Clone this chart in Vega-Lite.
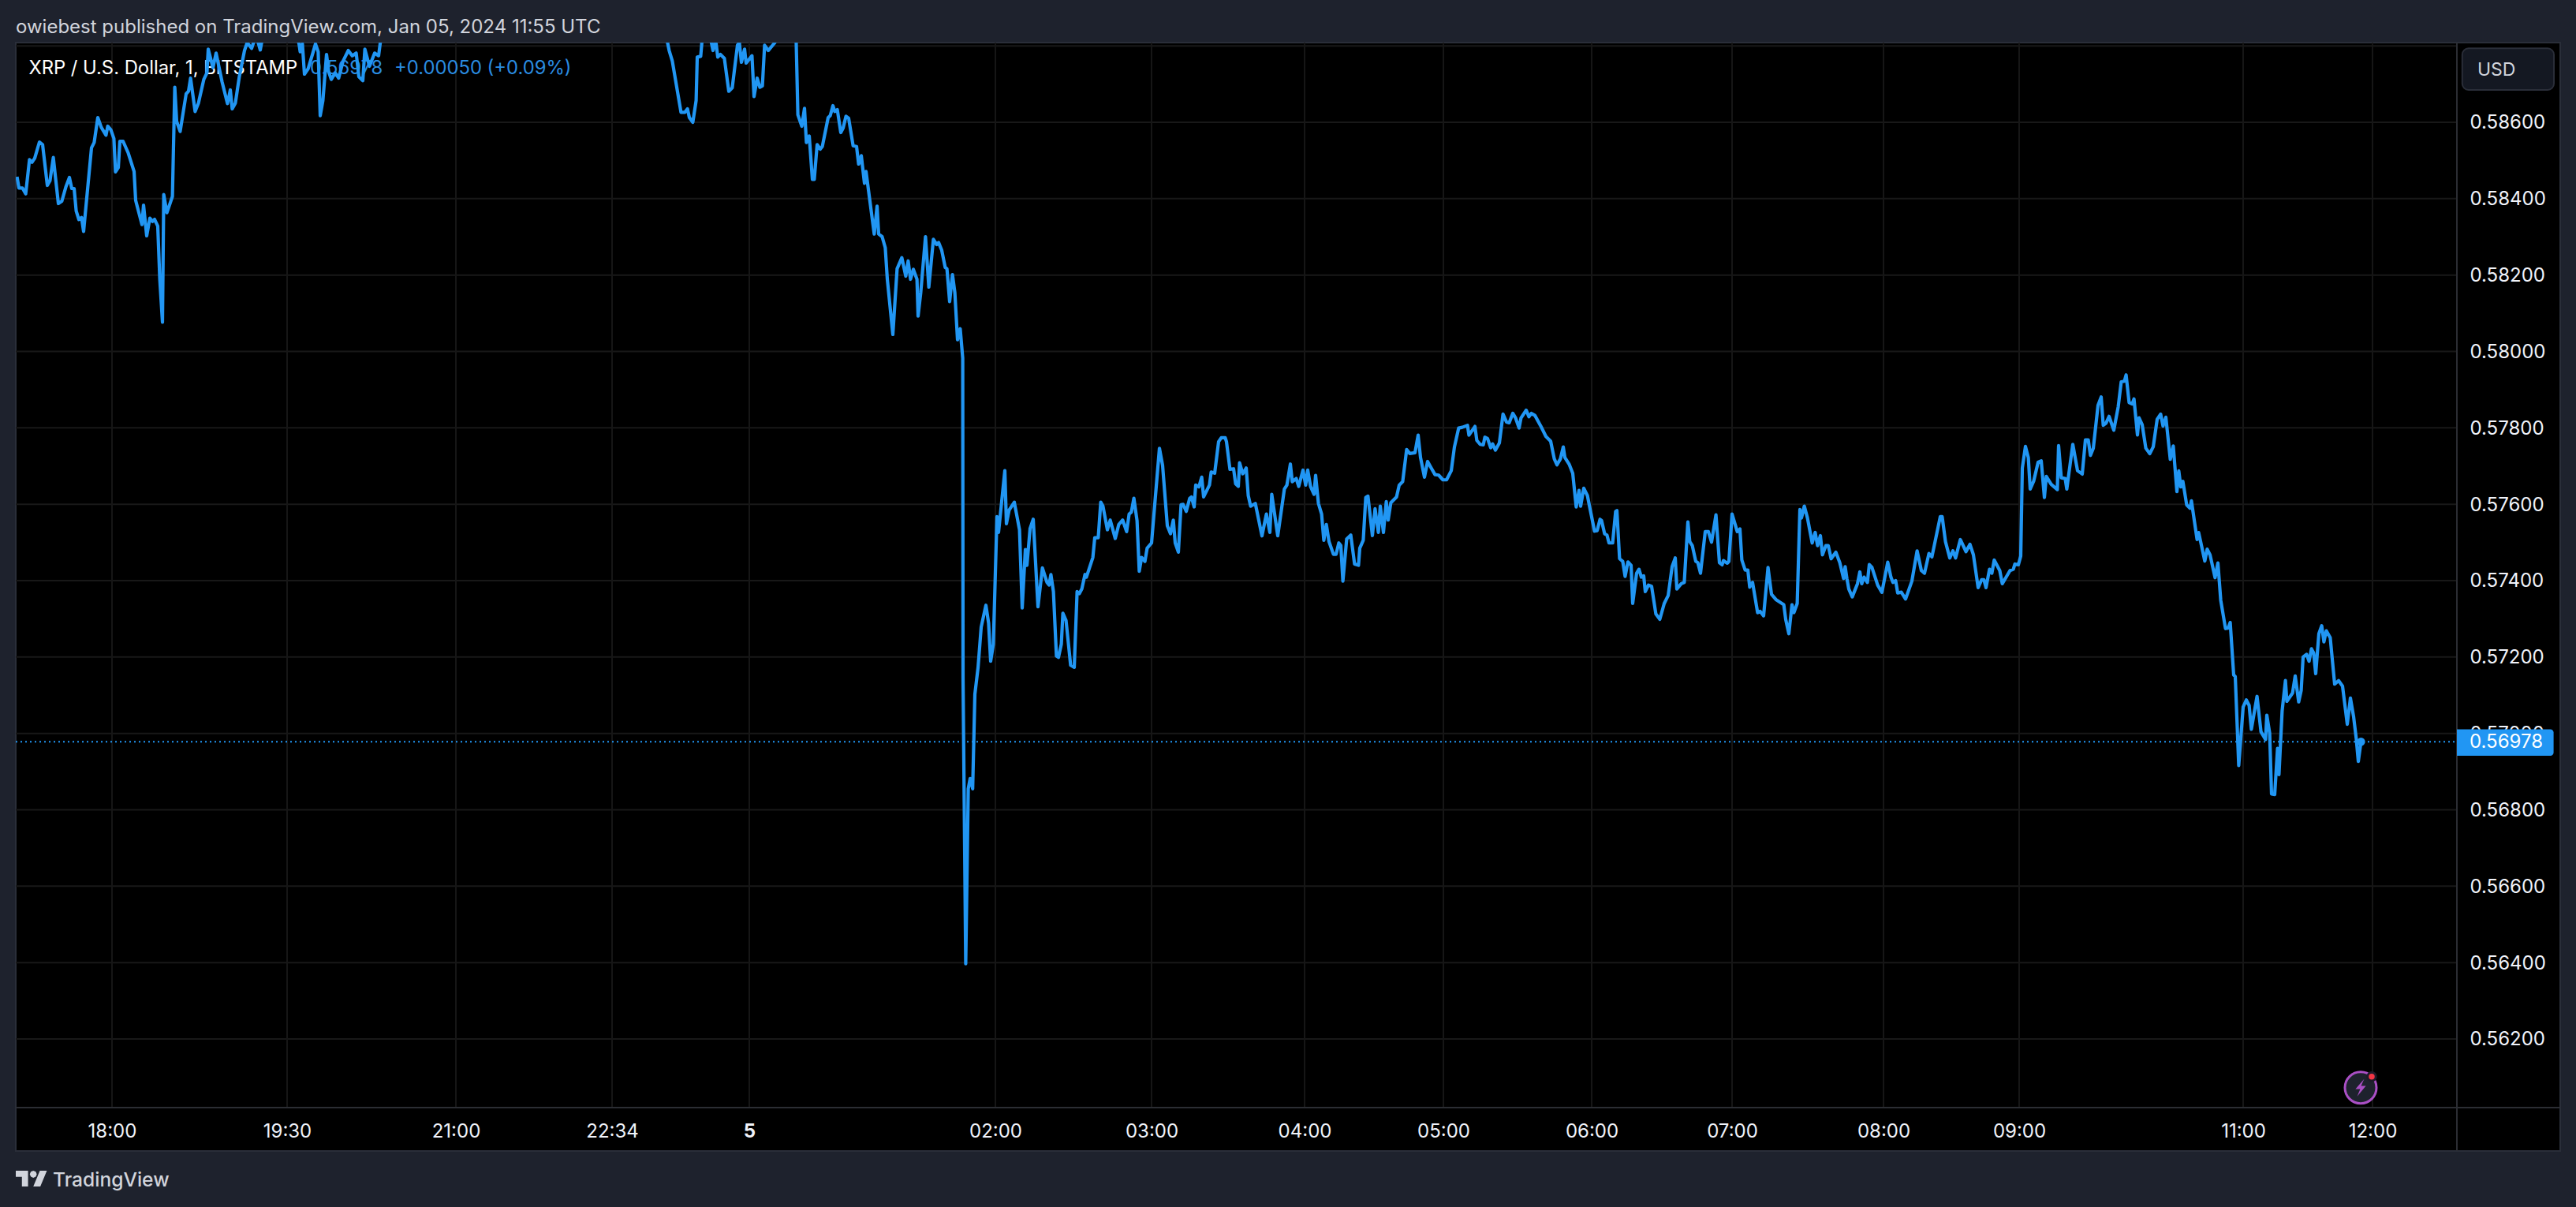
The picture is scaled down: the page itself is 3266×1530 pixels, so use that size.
{
"$schema":"https://vega.github.io/schema/vega-lite/v6.json",
"autosize":"none",
"width":3226,
"height":1405,
"padding":{"left":20,"top":54,"right":20,"bottom":71},
"background":"#1e222d",
"config":{"font":"Inter","view":{"fill":"#000000","stroke":"#2a2e39","strokeWidth":2}},
"title":{"text":"owiebest published on TradingView.com, Jan 05, 2024 11:55 UTC","anchor":"start","frame":"group","offset":22,"dy":28,"baseline":"middle","font":"Inter","fontSize":24,"fontWeight":400,"color":"#d1d4dc"},
"datasets":{
"prices":[
{"bar":0.8,"price":0.584575},{"bar":2,"price":0.584279},{"bar":4.2,"price":0.584279},{"bar":6.3,"price":0.584127},{"bar":8.7,"price":0.585022},{"bar":10.3,"price":0.584953},{"bar":12,"price":0.585057},{"bar":15,"price":0.585483},{"bar":17,"price":0.585415},{"bar":20,"price":0.584347},{"bar":21.7,"price":0.584471},{"bar":23.8,"price":0.585077},{"bar":27,"price":0.583872},{"bar":29.2,"price":0.583934},{"bar":31.7,"price":0.584299},{"bar":34,"price":0.584554},{"bar":35.5,"price":0.584265},{"bar":37,"price":0.584265},{"bar":38.3,"price":0.58368},{"bar":40,"price":0.583452},{"bar":41.7,"price":0.583507},{"bar":43,"price":0.583143},{"bar":48,"price":0.585332},{"bar":49.7,"price":0.58547},{"bar":52,"price":0.586124},{"bar":54.2,"price":0.585869},{"bar":57.2,"price":0.585662},{"bar":58.3,"price":0.585897},{"bar":60.3,"price":0.5858},{"bar":62.2,"price":0.585573},{"bar":63.2,"price":0.584699},{"bar":65,"price":0.584816},{"bar":66,"price":0.585504},{"bar":68,"price":0.585504},{"bar":71.3,"price":0.585194},{"bar":75,"price":0.584712},{"bar":76,"price":0.583955},{"bar":80,"price":0.583322},{"bar":81,"price":0.583831},{"bar":83,"price":0.583026},{"bar":85,"price":0.583487},{"bar":86.7,"price":0.583404},{"bar":88,"price":0.583459},{"bar":90,"price":0.58328},{"bar":91.3,"price":0.581889},{"bar":93,"price":0.580767},{"bar":93.8,"price":0.584106},{"bar":95.8,"price":0.583631},{"bar":99.3,"price":0.584058},{"bar":100.8,"price":0.586916},{"bar":102,"price":0.58602},{"bar":104.2,"price":0.585759},{"bar":108,"price":0.586743},{"bar":109.5,"price":0.586812},{"bar":110.8,"price":0.587157},{"bar":113.7,"price":0.586282},{"bar":115.8,"price":0.586502},{"bar":119.2,"price":0.587122},{"bar":121.2,"price":0.587294},{"bar":122,"price":0.587914},{"bar":125,"price":0.587432},{"bar":127,"price":0.587811},{"bar":130.8,"price":0.587053},{"bar":134.2,"price":0.586489},{"bar":136,"price":0.586847},{"bar":137.2,"price":0.586351},{"bar":139.2,"price":0.586502},{"bar":141.7,"price":0.587191},{"bar":145,"price":0.587879},{"bar":146.7,"price":0.588086},{"bar":149.5,"price":0.587935},{"bar":151.3,"price":0.588155},{"bar":153.3,"price":0.588141},{"bar":155,"price":0.587893},{"bar":156.3,"price":0.58819},{"bar":161.7,"price":0.58843},{"bar":166.7,"price":0.5885},{"bar":173.3,"price":0.58836},{"bar":178.8,"price":0.588224},{"bar":179.7,"price":0.588017},{"bar":180.3,"price":0.587845},{"bar":181.7,"price":0.588052},{"bar":183,"price":0.58726},{"bar":185.3,"price":0.587398},{"bar":188.3,"price":0.587811},{"bar":190,"price":0.588052},{"bar":191.7,"price":0.587845},{"bar":193,"price":0.586172},{"bar":194.7,"price":0.586571},{"bar":197,"price":0.587776},{"bar":198.3,"price":0.587329},{"bar":200,"price":0.587122},{"bar":202.5,"price":0.587294},{"bar":204.7,"price":0.587157},{"bar":207.5,"price":0.587604},{"bar":210.8,"price":0.587879},{"bar":213.3,"price":0.587742},{"bar":215.8,"price":0.587811},{"bar":217.5,"price":0.587191},{"bar":220,"price":0.587088},{"bar":221.3,"price":0.587914},{"bar":224.2,"price":0.587466},{"bar":227.5,"price":0.587811},{"bar":230,"price":0.587742},{"bar":231.3,"price":0.588155},{"bar":240,"price":0.5895},{"bar":280,"price":0.5905},{"bar":320,"price":0.59},{"bar":360,"price":0.5895},{"bar":400,"price":0.589},
{"bar":413,"price":0.58812},{"bar":414.2,"price":0.587879},{"bar":416.2,"price":0.587604},{"bar":421.7,"price":0.586261},{"bar":424.2,"price":0.586261},{"bar":425.8,"price":0.58635},{"bar":427,"price":0.586124},{"bar":429.2,"price":0.586},{"bar":431.3,"price":0.586571},{"bar":432,"price":0.587707},{"bar":434.2,"price":0.587728},{"bar":435,"price":0.58812},{"bar":438.7,"price":0.588155},{"bar":440.8,"price":0.58812},{"bar":442,"price":0.587879},{"bar":443,"price":0.588052},{"bar":444,"price":0.588052},{"bar":445,"price":0.587707},{"bar":446.7,"price":0.587776},{"bar":449.2,"price":0.587673},{"bar":452,"price":0.586812},{"bar":454.2,"price":0.586902},{"bar":457.5,"price":0.588017},{"bar":458.7,"price":0.588086},{"bar":460,"price":0.58757},{"bar":462,"price":0.587914},{"bar":463,"price":0.58755},{"bar":466.7,"price":0.587742},{"bar":468,"price":0.586675},{"bar":470,"price":0.587157},{"bar":471.7,"price":0.586916},{"bar":473.3,"price":0.58695},{"bar":474.7,"price":0.588017},{"bar":477,"price":0.587879},{"bar":480.8,"price":0.588065},{"bar":483.3,"price":0.588224},{"bar":488.3,"price":0.5886},{"bar":494.7,"price":0.588155},{"bar":495.8,"price":0.586193},{"bar":498.3,"price":0.585897},{"bar":500,"price":0.586365},{"bar":501.2,"price":0.58547},{"bar":503,"price":0.585642},{"bar":505,"price":0.584506},{"bar":506.2,"price":0.584506},{"bar":508,"price":0.585415},{"bar":510,"price":0.585298},{"bar":511.3,"price":0.585366},{"bar":515,"price":0.586124},{"bar":516.3,"price":0.586172},{"bar":518,"price":0.586434},{"bar":519.2,"price":0.586282},{"bar":520.8,"price":0.58633},{"bar":523,"price":0.585731},{"bar":524.5,"price":0.585848},{"bar":526.3,"price":0.586158},{"bar":528,"price":0.586103},{"bar":530.8,"price":0.585387},{"bar":533,"price":0.585366},{"bar":534.3,"price":0.584905},{"bar":536,"price":0.585125},{"bar":538,"price":0.584403},{"bar":539,"price":0.584712},{"bar":544.2,"price":0.583074},{"bar":546,"price":0.583803},{"bar":547,"price":0.583074},{"bar":549.2,"price":0.583005},{"bar":551.2,"price":0.582716},{"bar":552.5,"price":0.581889},{"bar":556,"price":0.580444},{"bar":558.7,"price":0.582165},{"bar":561.7,"price":0.582454},{"bar":564.2,"price":0.581972},{"bar":565.7,"price":0.582371},{"bar":567.2,"price":0.581889},{"bar":569,"price":0.582151},{"bar":571.3,"price":0.581889},{"bar":572,"price":0.580926},{"bar":573.7,"price":0.581545},{"bar":576.7,"price":0.583005},{"bar":578.8,"price":0.581683},{"bar":581.7,"price":0.582936},{"bar":583.8,"price":0.582798},{"bar":585,"price":0.582853},{"bar":587,"price":0.582647},{"bar":589.2,"price":0.582199},{"bar":590.3,"price":0.582165},{"bar":592,"price":0.581304},{"bar":593.8,"price":0.582013},{"bar":595.3,"price":0.581545},{"bar":597,"price":0.580306},{"bar":598.7,"price":0.580595},{"bar":600.3,"price":0.579824},{"bar":600.5,"price":0.57146},{"bar":602.2,"price":0.56397},{"bar":603.8,"price":0.56855},{"bar":605,"price":0.56882},{"bar":606.6,"price":0.56855},
{"bar":608,"price":0.571027},{"bar":610,"price":0.571716},{"bar":612,"price":0.572783},{"bar":615,"price":0.573355},{"bar":616.7,"price":0.572886},{"bar":618,"price":0.571888},{"bar":619.7,"price":0.572336},{"bar":622,"price":0.575675},{"bar":623,"price":0.575262},{"bar":627,"price":0.57688},{"bar":628,"price":0.575489},{"bar":629.7,"price":0.575847},{"bar":633,"price":0.576053},{"bar":636.3,"price":0.575331},{"bar":638,"price":0.573286},{"bar":640,"price":0.574814},{"bar":641,"price":0.574401},{"bar":643,"price":0.575365},{"bar":645,"price":0.575606},{"bar":648,"price":0.573313},{"bar":650.8,"price":0.574332},{"bar":653.7,"price":0.573954},{"bar":655,"price":0.573885},{"bar":656.2,"price":0.57416},{"bar":657.8,"price":0.573713},{"bar":659.7,"price":0.572026},{"bar":661,"price":0.571991},{"bar":662.8,"price":0.572336},{"bar":663.8,"price":0.573148},{"bar":665.8,"price":0.572955},{"bar":668.7,"price":0.571785},{"bar":671,"price":0.57173},{"bar":672.8,"price":0.573713},{"bar":674.2,"price":0.573657},{"bar":675.8,"price":0.573781},{"bar":677.8,"price":0.57416},{"bar":678.7,"price":0.574091},{"bar":682.8,"price":0.574608},{"bar":684,"price":0.575124},{"bar":686.2,"price":0.575124},{"bar":687.8,"price":0.576053},{"bar":689.2,"price":0.57595},{"bar":692,"price":0.575331},{"bar":693.8,"price":0.575585},{"bar":697,"price":0.575103},{"bar":699.2,"price":0.575468},{"bar":701.7,"price":0.575585},{"bar":704.2,"price":0.575282},{"bar":705.8,"price":0.575744},{"bar":707.2,"price":0.575792},{"bar":708.8,"price":0.576157},{"bar":710.8,"price":0.575571},{"bar":712.2,"price":0.574243},{"bar":713.7,"price":0.574608},{"bar":715.8,"price":0.574504},{"bar":717.2,"price":0.574849},{"bar":720,"price":0.574986},{"bar":725,"price":0.577465},{"bar":727,"price":0.577017},{"bar":730,"price":0.575434},{"bar":732,"price":0.575227},{"bar":733.8,"price":0.575585},{"bar":735,"price":0.574986},{"bar":737,"price":0.574745},{"bar":738.7,"price":0.575985},{"bar":740,"price":0.575998},{"bar":742,"price":0.575812},{"bar":744.2,"price":0.576157},{"bar":745.3,"price":0.576191},{"bar":747,"price":0.57593},{"bar":748,"price":0.576501},{"bar":750,"price":0.576453},{"bar":751.8,"price":0.576708},{"bar":753,"price":0.576191},{"bar":756.7,"price":0.576501},{"bar":757.8,"price":0.576845},{"bar":760,"price":0.576811},{"bar":762.5,"price":0.577637},{"bar":764.2,"price":0.57774},{"bar":766.7,"price":0.57774},{"bar":767.5,"price":0.577637},{"bar":769.7,"price":0.576914},{"bar":772,"price":0.576928},{"bar":773.3,"price":0.576535},{"bar":775,"price":0.576467},{"bar":775.8,"price":0.577086},{"bar":777.8,"price":0.576797},{"bar":780,"price":0.576948},{"bar":781.3,"price":0.576226},{"bar":782.8,"price":0.57595},{"bar":785.8,"price":0.576019},{"bar":790,"price":0.575172},{"bar":792.8,"price":0.575744},{"bar":795,"price":0.575262},{"bar":796.2,"price":0.57626},{"bar":800,"price":0.575172},{"bar":804.2,"price":0.576398},{"bar":805.8,"price":0.576501},{"bar":808,"price":0.577052},{"bar":809.2,"price":0.57659},{"bar":811.7,"price":0.576673},{"bar":813.3,"price":0.576467},{"bar":816,"price":0.576893},{"bar":817.7,"price":0.576501},{"bar":819,"price":0.576893},{"bar":820.8,"price":0.576467},{"bar":823,"price":0.57626},{"bar":824,"price":0.576756},{"bar":825.8,"price":0.576019},{"bar":827.8,"price":0.575744},{"bar":829.2,"price":0.575055},{"bar":830.8,"price":0.575468},{"bar":832.5,"price":0.575021},{"bar":835.3,"price":0.57469},{"bar":837,"price":0.57469},{"bar":838.7,"price":0.574986},
{"bar":840,"price":0.574917},{"bar":841.3,"price":0.573988},{"bar":843.7,"price":0.575089},{"bar":846.3,"price":0.575193},{"bar":848.7,"price":0.574435},{"bar":851.2,"price":0.574401},{"bar":852,"price":0.574848},{"bar":854.2,"price":0.575055},{"bar":855.8,"price":0.576177},{"bar":857.2,"price":0.576212},{"bar":860,"price":0.575179},{"bar":861.7,"price":0.575881},{"bar":863.8,"price":0.575261},{"bar":865,"price":0.57595},{"bar":867,"price":0.575261},{"bar":868.8,"price":0.576067},{"bar":870,"price":0.575585},{"bar":871.7,"price":0.576039},{"bar":875.3,"price":0.576191},{"bar":877,"price":0.576501},{"bar":879.2,"price":0.57659},{"bar":881.7,"price":0.57743},{"bar":883.7,"price":0.577327},{"bar":887,"price":0.577348},{"bar":889,"price":0.577809},{"bar":890.5,"price":0.577224},{"bar":893,"price":0.576707},{"bar":895,"price":0.57712},{"bar":897.5,"price":0.576934},{"bar":899.7,"price":0.576776},{"bar":902,"price":0.576762},{"bar":904.7,"price":0.576638},{"bar":907,"price":0.576638},{"bar":910,"price":0.576879},{"bar":912,"price":0.577499},{"bar":914.7,"price":0.577995},{"bar":917,"price":0.578015},{"bar":920.3,"price":0.578064},{"bar":921.2,"price":0.577809},{"bar":925,"price":0.578036},{"bar":926.2,"price":0.577671},{"bar":928.3,"price":0.577568},{"bar":930.3,"price":0.577554},{"bar":931.3,"price":0.577754},{"bar":933,"price":0.577719},{"bar":935,"price":0.577478},{"bar":936.2,"price":0.577582},{"bar":938,"price":0.577416},{"bar":940.5,"price":0.577602},{"bar":942.8,"price":0.57836},{"bar":945,"price":0.578153},{"bar":946.7,"price":0.578132},{"bar":949,"price":0.57838},{"bar":950.8,"price":0.578256},{"bar":953,"price":0.577995},{"bar":954.2,"price":0.578256},{"bar":957.5,"price":0.578463},{"bar":959.2,"price":0.578291},{"bar":960.8,"price":0.57838},{"bar":963,"price":0.578325},{"bar":966.7,"price":0.57805},{"bar":970,"price":0.577774},{"bar":973,"price":0.57765},{"bar":975.3,"price":0.577189},{"bar":977,"price":0.577031},{"bar":979.2,"price":0.577189},{"bar":981,"price":0.577499},{"bar":982,"price":0.577224},{"bar":984.7,"price":0.577051},{"bar":987,"price":0.57681},{"bar":989.2,"price":0.575929},{"bar":991,"price":0.576363},{"bar":992,"price":0.57595},{"bar":994,"price":0.576418},{"bar":996.3,"price":0.576225},{"bar":1000.8,"price":0.575296},{"bar":1002.5,"price":0.57531},{"bar":1004.3,"price":0.575606},{"bar":1005.3,"price":0.575571},{"bar":1007.2,"price":0.575227},{"bar":1008.7,"price":0.575193},{"bar":1010,"price":0.574986},{"bar":1012.3,"price":0.574986},{"bar":1014.2,"price":0.575812},{"bar":1015,"price":0.575833},{"bar":1016.7,"price":0.574573},{"bar":1018.7,"price":0.574504},{"bar":1020.2,"price":0.574112},{"bar":1022,"price":0.57449},{"bar":1024,"price":0.574401},{"bar":1025,"price":0.573402},{"bar":1027.5,"price":0.574194},{"bar":1029,"price":0.574297},{"bar":1030.5,"price":0.574091},{"bar":1032,"price":0.574125},{"bar":1033,"price":0.573712},{"bar":1035,"price":0.573884},{"bar":1037,"price":0.57385},{"bar":1039.7,"price":0.573127},{"bar":1042.2,"price":0.572989},{"bar":1045,"price":0.573402},{"bar":1047.5,"price":0.573609},{"bar":1050,"price":0.574366},{"bar":1052,"price":0.574594},{"bar":1053,"price":0.573781},{"bar":1055.8,"price":0.573919},{"bar":1057.7,"price":0.573953},{"bar":1060,"price":0.575537},{"bar":1061.2,"price":0.57502},{"bar":1062.8,"price":0.574917},{"bar":1065,"price":0.574504},{"bar":1066.3,"price":0.57447},{"bar":1068,"price":0.574194},{"bar":1071,"price":0.575282},{"bar":1073,"price":0.575282},{"bar":1075,"price":0.575007},{"bar":1077.8,"price":0.575723},
{"bar":1080,"price":0.574469},{"bar":1081.7,"price":0.574414},{"bar":1082.5,"price":0.574524},{"bar":1085,"price":0.574456},{"bar":1086,"price":0.574504},{"bar":1088,"price":0.575743},{"bar":1091.3,"price":0.575282},{"bar":1093,"price":0.575351},{"bar":1094.2,"price":0.574538},{"bar":1096.3,"price":0.574277},{"bar":1098,"price":0.574277},{"bar":1099.2,"price":0.573829},{"bar":1101,"price":0.573953},{"bar":1104.2,"price":0.573161},{"bar":1105.8,"price":0.573196},{"bar":1108,"price":0.573079},{"bar":1110.8,"price":0.574345},{"bar":1113,"price":0.573643},{"bar":1115.8,"price":0.573505},{"bar":1120.8,"price":0.573368},{"bar":1122,"price":0.572989},{"bar":1124,"price":0.57261},{"bar":1126,"price":0.573368},{"bar":1127.2,"price":0.573161},{"bar":1129.3,"price":0.573402},{"bar":1131,"price":0.57586},{"bar":1132,"price":0.57564},{"bar":1133.8,"price":0.57595},{"bar":1135.8,"price":0.57564},{"bar":1138.8,"price":0.574986},{"bar":1140.7,"price":0.575261},{"bar":1142.2,"price":0.574917},{"bar":1144,"price":0.575179},{"bar":1145.3,"price":0.574676},{"bar":1147.5,"price":0.574917},{"bar":1149,"price":0.574917},{"bar":1150.8,"price":0.574573},{"bar":1153.8,"price":0.574745},{"bar":1156.3,"price":0.574469},{"bar":1158.7,"price":0.574056},{"bar":1159.7,"price":0.574366},{"bar":1160.8,"price":0.574056},{"bar":1162,"price":0.573781},{"bar":1164.2,"price":0.573574},{"bar":1167.5,"price":0.573919},{"bar":1169,"price":0.574228},{"bar":1170.2,"price":0.573919},{"bar":1171.7,"price":0.574091},{"bar":1173.8,"price":0.573953},{"bar":1175,"price":0.574421},{"bar":1176.7,"price":0.574345},{"bar":1180.3,"price":0.573884},{"bar":1183,"price":0.573692},{"bar":1186.7,"price":0.574483},{"bar":1188.7,"price":0.574091},{"bar":1190,"price":0.573953},{"bar":1191.7,"price":0.574001},{"bar":1193,"price":0.573678},{"bar":1195.3,"price":0.573698},{"bar":1198,"price":0.573519},{"bar":1202,"price":0.573987},{"bar":1205.3,"price":0.574779},{"bar":1208,"price":0.574263},{"bar":1210,"price":0.574194},{"bar":1212.8,"price":0.57471},{"bar":1214.7,"price":0.574621},{"bar":1220,"price":0.575674},{"bar":1221.2,"price":0.575674},{"bar":1223.3,"price":0.57502},{"bar":1226,"price":0.574593},{"bar":1228,"price":0.574779},{"bar":1229.7,"price":0.574593},{"bar":1232.7,"price":0.575075},{"bar":1236.3,"price":0.574759},{"bar":1238.8,"price":0.574951},{"bar":1241,"price":0.574676},{"bar":1244,"price":0.573815},{"bar":1246.2,"price":0.574022},{"bar":1247.7,"price":0.574022},{"bar":1249,"price":0.573815},{"bar":1251.2,"price":0.574297},{"bar":1252.7,"price":0.574194},{"bar":1254.2,"price":0.574538},{"bar":1257.7,"price":0.574263},{"bar":1259.3,"price":0.573919},{"bar":1264.2,"price":0.574263},{"bar":1266.3,"price":0.574297},{"bar":1267.3,"price":0.574435},{"bar":1269.5,"price":0.574414},{"bar":1271,"price":0.574642},{"bar":1272,"price":0.576948},{"bar":1274,"price":0.577513},{"bar":1275.8,"price":0.577223},{"bar":1277,"price":0.576397},{"bar":1279.2,"price":0.576604},{"bar":1282,"price":0.577099},{"bar":1284,"price":0.577134},{"bar":1286,"price":0.576177},{"bar":1287.2,"price":0.576728},{"bar":1290.3,"price":0.576521},{"bar":1294.2,"price":0.576383},{"bar":1295,"price":0.577533},{"bar":1296.7,"price":0.576693},{"bar":1299.2,"price":0.576673},{"bar":1300.2,"price":0.576397},{"bar":1304,"price":0.577568},{"bar":1307,"price":0.576879},{"bar":1310,"price":0.57679},{"bar":1312,"price":0.577685},{"bar":1313.8,"price":0.577685},{"bar":1315.2,"price":0.577278},{"bar":1317,"price":0.577464},
{"bar":1320,"price":0.57859},{"bar":1322,"price":0.578807},{"bar":1323.3,"price":0.578068},{"bar":1325,"price":0.578119},{"bar":1327,"price":0.5783},{"bar":1330,"price":0.577938},{"bar":1332.8,"price":0.578553},{"bar":1334.7,"price":0.579205},{"bar":1336.7,"price":0.57922},{"bar":1337.8,"price":0.579386},{"bar":1339.7,"price":0.578662},{"bar":1341.7,"price":0.578626},{"bar":1342.8,"price":0.578756},{"bar":1345,"price":0.577815},{"bar":1346,"price":0.578264},{"bar":1348,"price":0.578083},{"bar":1350.3,"price":0.577467},{"bar":1352.8,"price":0.577322},{"bar":1355,"price":0.577503},{"bar":1357.5,"price":0.578227},{"bar":1359.7,"price":0.578358},{"bar":1361.2,"price":0.578046},{"bar":1363,"price":0.578278},{"bar":1365.8,"price":0.577177},{"bar":1367.7,"price":0.577525},{"bar":1370,"price":0.57633},{"bar":1371.2,"price":0.576873},{"bar":1372.5,"price":0.576453},{"bar":1373.8,"price":0.576598},{"bar":1376.2,"price":0.575982},{"bar":1378.3,"price":0.575895},{"bar":1379.2,"price":0.576091},{"bar":1382.8,"price":0.575077},{"bar":1383.8,"price":0.575258},{"bar":1387.7,"price":0.574512},{"bar":1389.2,"price":0.574823},{"bar":1391,"price":0.574678},{"bar":1394.2,"price":0.574077},{"bar":1396,"price":0.574461},{"bar":1397.8,"price":0.573483},{"bar":1400.8,"price":0.572745},{"bar":1402.5,"price":0.572759},{"bar":1403.8,"price":0.572904},{"bar":1406,"price":0.571528},{"bar":1407,"price":0.571491},{"bar":1409.2,"price":0.569159},{"bar":1412,"price":0.570695},{"bar":1414,"price":0.570876},{"bar":1415.8,"price":0.570731},{"bar":1417.2,"price":0.570108},{"bar":1420.8,"price":0.57097},{"bar":1423.3,"price":0.570043},{"bar":1426.2,"price":0.56984},{"bar":1427,"price":0.570477},{"bar":1428.8,"price":0.570007},{"bar":1430,"price":0.568413},{"bar":1432,"price":0.568399},{"bar":1433.8,"price":0.569608},{"bar":1434.7,"price":0.56892},{"bar":1436.7,"price":0.570586},{"bar":1438.8,"price":0.571383},{"bar":1439.7,"price":0.57084},{"bar":1443.3,"price":0.571057},{"bar":1445,"price":0.571506},{"bar":1447.2,"price":0.570825},{"bar":1448.8,"price":0.571129},{"bar":1450,"price":0.571998},{"bar":1452.2,"price":0.572071},{"bar":1453.8,"price":0.57189},{"bar":1455.3,"price":0.572216},{"bar":1456.7,"price":0.572107},{"bar":1458,"price":0.571564},{"bar":1460,"price":0.572614},{"bar":1461.8,"price":0.572817},{"bar":1463.2,"price":0.572397},{"bar":1464.7,"price":0.572687},{"bar":1467.2,"price":0.572505},{"bar":1470,"price":0.571289},{"bar":1472.5,"price":0.571383},{"bar":1475,"price":0.571238},{"bar":1478,"price":0.570239},{"bar":1480,"price":0.570926},{"bar":1482,"price":0.570441},{"bar":1483.7,"price":0.569862},{"bar":1485,"price":0.569268},{"bar":1486.7,"price":0.56978}
],
"gridPrices":[
{"bar":0,"bar2":1547.5,"price":0.562},{"bar":0,"bar2":1547.5,"price":0.564},{"bar":0,"bar2":1547.5,"price":0.566},{"bar":0,"bar2":1547.5,"price":0.568},{"bar":0,"bar2":1547.5,"price":0.57},{"bar":0,"bar2":1547.5,"price":0.572},{"bar":0,"bar2":1547.5,"price":0.574},{"bar":0,"bar2":1547.5,"price":0.576},{"bar":0,"bar2":1547.5,"price":0.578},{"bar":0,"bar2":1547.5,"price":0.58},{"bar":0,"bar2":1547.5,"price":0.582},{"bar":0,"bar2":1547.5,"price":0.584},{"bar":0,"bar2":1547.5,"price":0.586},{"bar":0,"bar2":1547.5,"price":0.588}
],
"gridBars":[
{"bar":61,"price":0.588086,"price2":0.560203},{"bar":172,"price":0.588086,"price2":0.560203},{"bar":279,"price":0.588086,"price2":0.560203},{"bar":378,"price":0.588086,"price2":0.560203},{"bar":465,"price":0.588086,"price2":0.560203},{"bar":621,"price":0.588086,"price2":0.560203},{"bar":720,"price":0.588086,"price2":0.560203},{"bar":817,"price":0.588086,"price2":0.560203},{"bar":905,"price":0.588086,"price2":0.560203},{"bar":999,"price":0.588086,"price2":0.560203},{"bar":1088,"price":0.588086,"price2":0.560203},{"bar":1184,"price":0.588086,"price2":0.560203},{"bar":1270,"price":0.588086,"price2":0.560203},{"bar":1412,"price":0.588086,"price2":0.560203},{"bar":1494,"price":0.588086,"price2":0.560203}
]
},
"encoding":{
"x":{"field":"bar","type":"quantitative","title":null,"scale":{"domain":[0,1613],"nice":false,"zero":false},
"axis":{"orient":"bottom","offset":-25,"domain":false,"ticks":false,"grid":false,"labelPadding":0,"labelBaseline":"middle","labelAlign":"center","labelFont":"Inter","labelFontSize":24,"labelColor":"#f0f3fa","labelOverlap":false,"labelBound":false,"labelFlush":false,
"values":[61,172,279,378,465,621,720,817,905,999,1088,1184,1270,1412,1494],
"labelExpr":"{'61':'18:00','172':'19:30','279':'21:00','378':'22:34','465':'5','621':'02:00','720':'03:00','817':'04:00','905':'05:00','999':'06:00','1088':'07:00','1184':'08:00','1270':'09:00','1412':'11:00','1494':'12:00'}[datum.value]",
"labelFontWeight":{"condition":{"test":"datum.value == 465","value":700},"value":400}}},
"y":{"field":"price","type":"quantitative","title":null,"scale":{"domain":[0.559067,0.588086],"nice":false,"zero":false},
"axis":{"orient":"right","offset":-115,"domain":false,"ticks":false,"grid":false,"labelPadding":0,"labelOffset":1,"labelAlign":"left","labelBaseline":"middle","labelFont":"Inter","labelFontSize":24,"labelColor":"#f0f3fa","labelOverlap":false,"labelBound":false,"format":".5f",
"values":[0.562,0.564,0.566,0.568,0.57,0.572,0.574,0.576,0.578,0.58,0.582,0.584,0.586]}}
},
"layer":[
{"data":{"name":"gridPrices"},"mark":{"type":"rule","color":"#181818","strokeWidth":2},"encoding":{"x2":{"field":"bar2"}}},
{"data":{"name":"gridBars"},"mark":{"type":"rule","color":"#161616","strokeWidth":2},"encoding":{"y2":{"field":"price2"}}},
{"data":{"values":[{"bar":0,"bar2":1547.5,"price":0.56978}]},"mark":{"type":"rule","color":"#2196f3","strokeWidth":2,"strokeDash":[2,4]},"encoding":{"x2":{"field":"bar2"}}},
{"data":{"values":[{"bar":8.2,"price":0.587425,"label":"XRP / U.S. Dollar, 1, BITSTAMP"}]},"mark":{"type":"text","align":"left","baseline":"middle","dy":1,"font":"Inter","fontSize":23.8,"color":"#ffffff"},"encoding":{"text":{"field":"label"}}},
{"data":{"values":[{"bar":186.5,"price":0.587425,"label":"0.56978"},{"bar":240,"price":0.587425,"label":"+0.00050 (+0.09%)"}]},"mark":{"type":"text","align":"left","baseline":"middle","dy":1,"font":"Inter","fontSize":23.8,"color":"#2a8ce0"},"encoding":{"text":{"field":"label"}}},
{"data":{"name":"prices"},"mark":{"type":"line","color":"#2196f3","strokeWidth":4.2,"clip":true,"interpolate":"linear","strokeJoin":"round"}},
{"data":{"values":[{"bar":1486.7,"price":0.56978}]},"mark":{"type":"point","shape":"circle","filled":true,"size":110,"opacity":1,"color":"#2196f3"}},
{"data":{"values":[{"bar":0,"bar2":1613,"price":0.560203}]},"mark":{"type":"rule","color":"#2b2d33","strokeWidth":2},"encoding":{"x2":{"field":"bar2"}}},
{"data":{"values":[{"bar":1547.5,"price":0.588086,"price2":0.559067}]},"mark":{"type":"rule","color":"#2b2d33","strokeWidth":2},"encoding":{"y2":{"field":"price2"}}},
{"data":{"values":[{"bar":1547.5,"bar2":1608.8,"price":0.570106,"price2":0.569415}]},"mark":{"type":"rect","color":"#2196f3","cornerRadiusTopRight":4,"cornerRadiusBottomRight":4},"encoding":{"x2":{"field":"bar2"},"y2":{"field":"price2"}}},
{"data":{"values":[{"bar":1555.5,"price":0.56978,"label":"0.56978"}]},"mark":{"type":"text","align":"left","baseline":"middle","dy":1,"font":"Inter","fontSize":24,"color":"#ffffff"},"encoding":{"text":{"field":"label"}}},
{"data":{"values":[{"bar":1550.9,"bar2":1609,"price":0.587935,"price2":0.586847}]},"mark":{"type":"rect","fill":"#141822","stroke":"#2a2e39","strokeWidth":2,"cornerRadius":8},"encoding":{"x2":{"field":"bar2"},"y2":{"field":"price2"}}},
{"data":{"values":[{"bar":1560.5,"price":0.587384,"label":"USD"}]},"mark":{"type":"text","align":"left","baseline":"middle","dy":1,"font":"Inter","fontSize":23,"color":"#d1d4dc"},"encoding":{"text":{"field":"label"}}},
{"data":{"values":[{"bar":1486.5,"price":0.560724}]},"mark":{"type":"point","shape":"circle","filled":true,"size":1600,"opacity":1,"fill":"#1e222d","stroke":"#a94fc4","strokeWidth":3}},
{"data":{"values":[{"bar":1486.5,"price":0.560724}]},"mark":{"type":"point","shape":"M0.4,-1L-0.6,0.15L-0.05,0.15L-0.4,1L0.6,-0.2L0.05,-0.2Z","filled":true,"size":484,"opacity":1,"color":"#a94fc4"}},
{"data":{"values":[{"bar":1493.5,"price":0.561014}]},"mark":{"type":"point","shape":"circle","filled":true,"size":110,"opacity":1,"fill":"#f23645","stroke":"#1e1a2a","strokeWidth":3}},
{"data":{"values":[{"bar":10,"price":0.558344}]},"mark":{"type":"point","shape":"M-0.222,0.5H-0.611V-0.111H-1V-0.5H-0.222ZM0.556,0.5H0.111L0.528,-0.5H0.972ZM0.333,-0.278L0.268,-0.121L0.111,-0.056L-0.046,-0.121L-0.111,-0.278L-0.046,-0.435L0.111,-0.5L0.268,-0.435Z","filled":true,"size":1600,"opacity":1,"color":"#d1d4dc"}},
{"data":{"values":[{"bar":23.5,"price":0.558282,"label":"TradingView"}]},"mark":{"type":"text","align":"left","baseline":"middle","font":"Inter","fontSize":24.6,"fontWeight":500,"color":"#d1d4dc"},"encoding":{"text":{"field":"label"}}}
]
}
